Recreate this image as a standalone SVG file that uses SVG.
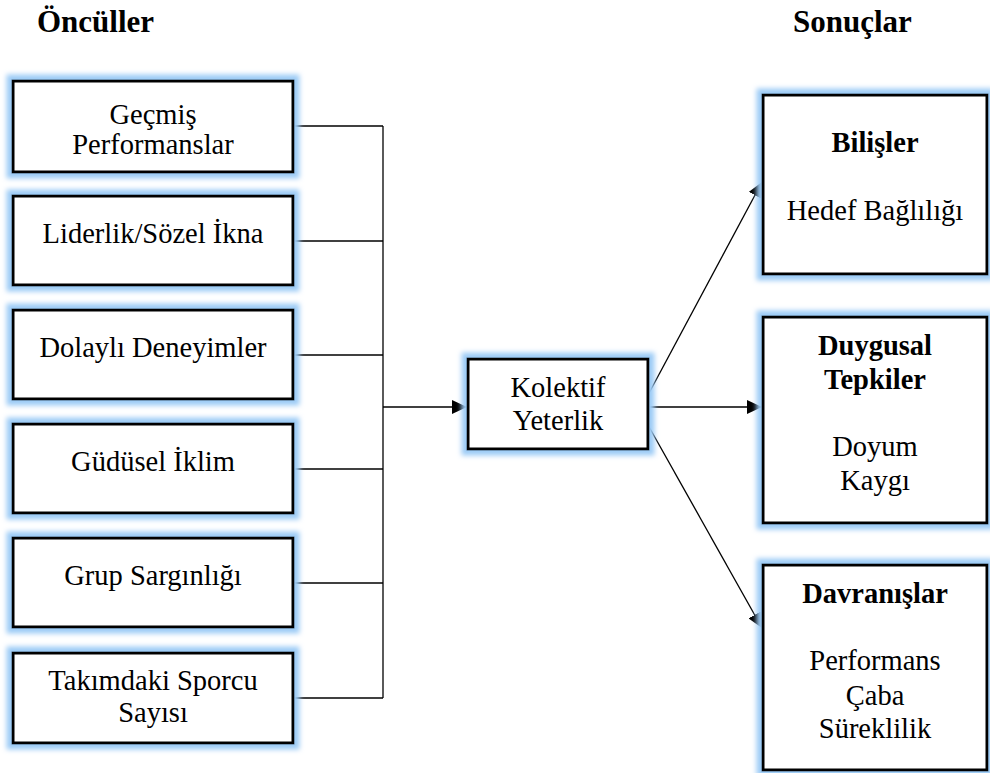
<svg xmlns="http://www.w3.org/2000/svg" width="990" height="773" viewBox="0 0 990 773">
<style>
.box{fill:#fff;stroke:#000;stroke-width:3;filter:url(#glow)}
.t{font-size:28.5px;text-anchor:middle;fill:#000}
.b{font-weight:bold}
.h{font-size:31px;font-weight:bold;fill:#000}
.ln{stroke:#000;stroke-width:1.3;fill:none}
</style>
<defs>
<filter id="glow" x="-20%" y="-20%" width="140%" height="140%">
<feMorphology in="SourceAlpha" operator="dilate" radius="5" result="d"/>
<feGaussianBlur in="d" stdDeviation="2.5" result="bl"/>
<feFlood flood-color="#9ccbf6"/>
<feComposite in2="bl" operator="in" result="g"/>
<feMerge><feMergeNode in="g"/><feMergeNode in="SourceGraphic"/></feMerge>
</filter>
<marker id="ah" markerWidth="16" markerHeight="14" refX="15" refY="7" orient="auto" markerUnits="userSpaceOnUse">
<path d="M0,0 L15,7 L0,14 Z" fill="#000"/>
</marker>
</defs>
<g font-family="Liberation Serif, Times New Roman, serif">
<text class="h" x="37" y="32">Öncüller</text>
<text class="h" x="793" y="32">Sonuçlar</text>
<g id="connectors">
<line class="ln" x1="293" y1="126" x2="383" y2="126"/>
<line class="ln" x1="293" y1="241" x2="383" y2="241"/>
<line class="ln" x1="293" y1="355" x2="383" y2="355"/>
<line class="ln" x1="293" y1="469" x2="383" y2="469"/>
<line class="ln" x1="293" y1="583" x2="383" y2="583"/>
<line class="ln" x1="293" y1="698" x2="383" y2="698"/>
<line class="ln" x1="383" y1="126" x2="383" y2="698"/>
<line class="ln" x1="383" y1="407" x2="467" y2="407" stroke-width="2" marker-end="url(#ah)"/>
<line class="ln" x1="648" y1="395" x2="762" y2="182" marker-end="url(#ah)"/>
<line class="ln" x1="648" y1="407" x2="762" y2="407" marker-end="url(#ah)"/>
<line class="ln" x1="648" y1="425" x2="762" y2="628" marker-end="url(#ah)"/>
</g>
<g id="n1"><rect class="box" x="13" y="81" width="280" height="91"/><text class="t" x="153" y="124">Geçmiş</text><text class="t" x="153" y="154">Performanslar</text></g>
<g id="n2"><rect class="box" x="13" y="196" width="280" height="89"/><text class="t" x="153" y="243">Liderlik/Sözel İkna</text></g>
<g id="n3"><rect class="box" x="13" y="310" width="280" height="89"/><text class="t" x="153" y="357">Dolaylı Deneyimler</text></g>
<g id="n4"><rect class="box" x="13" y="424" width="280" height="89"/><text class="t" x="153" y="471">Güdüsel İklim</text></g>
<g id="n5"><rect class="box" x="13" y="538" width="280" height="89"/><text class="t" x="153" y="585">Grup Sargınlığı</text></g>
<g id="n6"><rect class="box" x="13" y="653" width="280" height="90"/><text class="t" x="153" y="690">Takımdaki Sporcu</text><text class="t" x="153" y="722">Sayısı</text></g>
<g id="kolektif"><rect class="box" x="468" y="359" width="180" height="90"/><text class="t" x="558" y="397">Kolektif</text><text class="t" x="558" y="430">Yeterlik</text></g>
<g id="bilisler"><rect class="box" x="763" y="95" width="224" height="179"/><text class="t b" x="875" y="152">Bilişler</text><text class="t" x="875" y="220">Hedef Bağlılığı</text></g>
<g id="duygusal"><rect class="box" x="763" y="317" width="224" height="206"/><text class="t b" x="875" y="355">Duygusal</text><text class="t b" x="875" y="389">Tepkiler</text><text class="t" x="875" y="456">Doyum</text><text class="t" x="875" y="490">Kaygı</text></g>
<g id="davranislar"><rect class="box" x="763" y="565" width="224" height="205"/><text class="t b" x="875" y="603">Davranışlar</text><text class="t" x="875" y="670">Performans</text><text class="t" x="875" y="705">Çaba</text><text class="t" x="875" y="738">Süreklilik</text></g>
</g>
</svg>
